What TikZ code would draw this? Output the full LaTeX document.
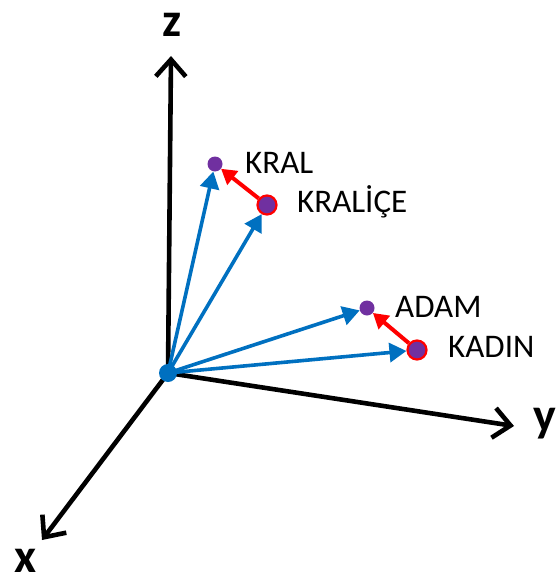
\documentclass[tikz,border=0pt]{standalone}
\usepackage{fontspec}
\setmainfont{Carlito}
\usetikzlibrary{arrows.meta}
\definecolor{vecblue}{RGB}{0,112,192}
\definecolor{ptpurple}{RGB}{112,48,160}
\definecolor{diffred}{RGB}{255,0,0}
\tikzset{
  axis/.style={line width=4.6pt,-{Straight Barb[length=17pt,width=30pt]}},
  axislabel/.style={font=\fontsize{48}{48}\selectfont\bfseries,inner sep=0pt},
  vec/.style={vecblue,line width=3.6pt,-{Triangle[length=17pt,width=19pt]}},
  diff/.style={diffred,line width=4pt,-{Triangle[length=15pt,width=17pt]}},
  word/.style={font=\fontsize{33}{33}\selectfont,inner sep=0pt,anchor=base west},
  target/.style={circle,fill=ptpurple,minimum size=15pt,inner sep=0pt},
  source/.style={circle,fill=ptpurple,draw=diffred,line width=2.2pt,minimum size=19pt,inner sep=0pt},
}
\begin{document}
\begin{tikzpicture}[x=1pt,y=-1pt]
  \useasboundingbox (0,0) rectangle (558,586);
  % origin and axis ends
  \coordinate (O) at (168,373);
  \coordinate (zend) at (171,56);
  \coordinate (yend) at (514,426);
  \coordinate (xend) at (42,540);
  \draw[axis] (O) -- (zend);
  \draw[axis] (O) -- (yend);
  \draw[axis] (O) -- (xend);
  \node[axislabel] (zl) at (172,25) {z};
  \node[axislabel] (yl) at (545,424) {y};
  \node[axislabel] (xl) at (26,561) {x};
  % word points
  \node[target] (kral) at (215,164) {};
  \node[source] (kralice) at (267,205) {};
  \node[target] (adam) at (367,308) {};
  \node[source] (kadin) at (417,350) {};
  % vectors from the origin
  \draw[vec] (O) -- (kral);
  \draw[vec] (O) -- (kralice);
  \draw[vec] (O) -- (adam);
  \draw[vec] (O) -- (kadin);
  \node[circle,fill=vecblue,minimum size=18pt,inner sep=0pt] (orig) at (O) {};
  % differences
  \draw[diff] (kralice) -- (kral);
  \draw[diff] (kadin) -- (adam);
  % labels
  \node[word] (lkral) at (245,173) {KRAL};
  \node[word] (lkralice) at (297,212) {KRALİÇE};
  \node[word] (ladam) at (395,317) {ADAM};
  \node[word] (lkadin) at (448,357) {KADIN};
\end{tikzpicture}
\end{document}
